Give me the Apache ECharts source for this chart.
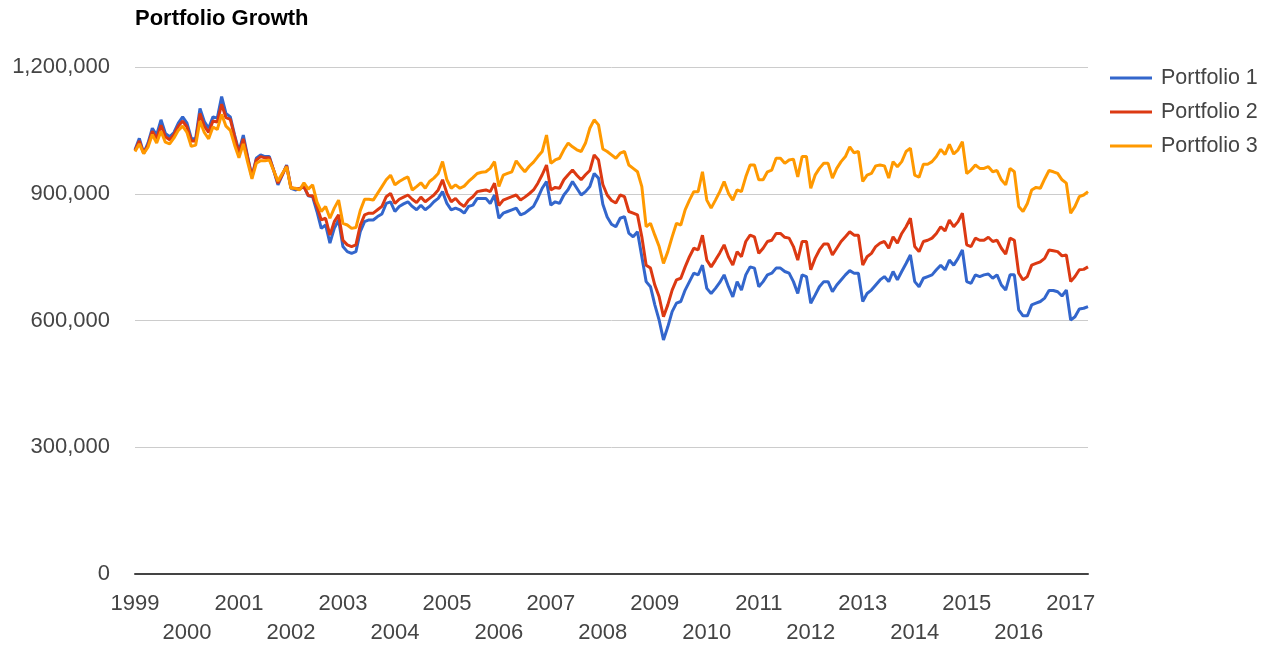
<!DOCTYPE html>
<html>
<head>
<meta charset="utf-8">
<script src="https://cdn.jsdelivr.net/npm/echarts@6/dist/echarts.min.js"></script>
<style>
  html, body { margin: 0; padding: 0; background: #fff; }
  #chart { width: 1280px; height: 664px; }
</style>
</head>
<body>
<div id="chart"></div>
<script>
// Monthly values, in thousands, Jan 1999 .. May 2017
const START_YEAR = 1999;
const MONTH_COUNT = 221;
const UNIT = 1000;

const portfolio1 = [
  1004,1031,996,1020,1055,1039,1075,1043,1035,1045,
  1067,1082,1067,1031,1030,1102,1071,1055,1082,1079,
  1130,1090,1082,1039,1000,1039,988,940,984,992,
  988,988,956,921,944,968,913,909,
  912,917,895,893,858,818,826,783,818,838,775,763,759,763,810,834,838,838,846,852,877,881,858,870,876,881,870,862,873,862,870,881,889,905,877,862,866,
  862,854,870,873,889,889,889,877,897,842,854,858,862,866,850,854,862,870,890,913,929,873,881,877,897,910,929,913,897,905,917,948,937,875,845,828,822,
  842,846,807,798,810,751,692,680,637,601,554,585,621,641,645,672,692,712,708,731,676,664,676,690,708,680,656,692,672,708,
  727,724,680,692,708,712,724,724,716,712,692,664,708,704,641,660,680,692,692,668,684,696,708,718,712,712,645,664,672,684,696,704,692,716,696,716,735,755,692,680,700,704,708,720,731,720,743,731,747,767,692,688,708,704,708,710,700,708,684,672,708,708,625,611,611,637,641,645,653,671,671,668,658,672,601,609,627,629,633
];

const portfolio2 = [
  1002,1025,996,1015,1048,1030,1062,1035,1028,1040,
  1060,1072,1058,1025,1025,1090,1060,1045,1072,1070,
  1112,1080,1076,1035,995,1030,985,940,980,988,
  985,985,956,925,945,966,915,912,
  912,917,896,895,870,838,842,802,834,850,790,779,775,779,825,850,854,854,862,870,893,901,877,887,892,897,887,879,892,881,889,897,909,933,901,881,889,
  877,870,885,893,905,907,909,905,925,872,885,889,893,897,885,892,900,909,925,945,968,909,915,913,933,945,956,944,933,945,955,992,980,922,897,884,878,
  897,893,858,854,850,798,731,724,684,656,609,637,672,696,700,727,751,771,767,802,743,727,743,760,779,751,731,763,751,787,
  802,798,759,771,787,790,806,806,797,795,775,743,787,787,720,747,767,781,781,755,771,787,798,810,802,802,731,751,759,775,783,787,771,798,783,806,822,842,775,763,787,790,795,806,822,812,838,822,834,854,779,775,795,790,790,797,787,790,771,757,795,790,712,696,704,731,735,739,747,767,765,763,753,755,692,704,720,721,727
];

const portfolio3 = [
  1000,1018,995,1010,1040,1020,1048,1022,1018,1032,
  1050,1060,1045,1012,1015,1072,1045,1030,1058,1052,
  1088,1060,1050,1015,985,1018,975,935,972,978,
  978,980,955,930,948,964,913,913,
  909,926,911,921,881,858,870,842,866,885,830,826,818,820,860,887,887,885,901,917,933,944,921,929,935,940,909,917,926,913,929,937,948,976,933,913,921,
  913,918,929,938,948,951,952,960,976,917,944,948,952,978,964,952,965,975,988,1000,1039,972,980,984,1004,1020,1011,1004,1000,1020,1055,1075,1063,1006,1000,992,984,
  996,1000,968,960,952,917,822,830,802,775,735,763,798,830,826,862,885,905,905,952,885,866,885,905,929,901,885,909,905,940,
  968,968,933,933,952,956,984,984,972,980,982,940,988,988,913,944,960,972,972,937,960,976,988,1011,997,1000,929,944,948,966,968,966,937,976,964,976,1000,1008,944,939,970,970,976,988,1005,993,1017,994,1004,1023,948,956,968,960,960,964,952,955,933,921,960,952,870,858,877,909,915,913,935,955,952,948,933,925,854,870,893,897,905
];

const seriesNames = ['Portfolio 1', 'Portfolio 2', 'Portfolio 3'];
const seriesColors = ['#3366cc', '#dc3912', '#ff9900'];
const yTicks = [0, 300000, 600000, 900000, 1200000];

// Category labels: one per month
const months = [];
for (let i = 0; i < MONTH_COUNT; i++) {
  const y = START_YEAR + Math.floor(i / 12);
  const m = (i % 12) + 1;
  months.push(y + '-' + (m < 10 ? '0' + m : m));
}

const chart = echarts.init(document.getElementById('chart'), null, { renderer: 'canvas' });
const FONT = '"Liberation Sans", Arial, sans-serif';

chart.setOption({
  backgroundColor: '#ffffff',
  animation: false,
  textStyle: { fontFamily: FONT },
  title: {
    text: 'Portfolio Growth',
    left: 135,
    top: 8,
    padding: 0,
    textStyle: { fontSize: 22, fontWeight: 'bold', color: '#000', fontFamily: FONT }
  },
  legend: {
    orient: 'vertical',
    left: 1110,
    top: 66,
    padding: 0,
    itemWidth: 42,
    itemHeight: 3,
    itemGap: 10,
    icon: 'rect',
    data: seriesNames,
    textStyle: { fontSize: 21.5, color: '#444', lineHeight: 24, padding: [0, 0, 0, 4], fontFamily: FONT }
  },
  grid: { left: 135, right: 192, top: 67, bottom: 90, containLabel: false },
  xAxis: {
    type: 'category',
    data: months,
    boundaryGap: false,
    axisLine: { show: true, lineStyle: { color: '#444', width: 2 } },
    axisTick: { show: false },
    splitLine: { show: false },
    axisLabel: {
      interval: function (index) { return index % 12 === 0; },
      formatter: function (value, index) {
        const year = value.slice(0, 4);
        const offset = parseInt(year, 10) - START_YEAR;
        return offset % 2 === 1 ? '\n' + year : year;
      },
      fontSize: 22,
      lineHeight: 29,
      margin: 15,
      color: '#444',
      fontFamily: FONT
    }
  },
  yAxis: {
    type: 'value',
    min: yTicks[0],
    max: yTicks[yTicks.length - 1],
    interval: yTicks[1] - yTicks[0],
    axisLine: { show: false },
    axisTick: { show: false },
    splitLine: { show: true, lineStyle: { color: '#cccccc', width: 1 } },
    axisLabel: {
      formatter: function (v) { return v.toLocaleString('en-US'); },
      fontSize: 22,
      margin: 25,
      color: '#444',
      fontFamily: FONT
    }
  },
  series: [portfolio1, portfolio2, portfolio3].map(function (arr, i) {
    return {
      name: seriesNames[i],
      type: 'line',
      data: arr.map(function (v) { return v * UNIT; }),
      showSymbol: false,
      symbol: 'none',
      lineStyle: { width: 3, color: seriesColors[i] },
      itemStyle: { color: seriesColors[i] }
    };
  })
});
</script>
</body>
</html>
